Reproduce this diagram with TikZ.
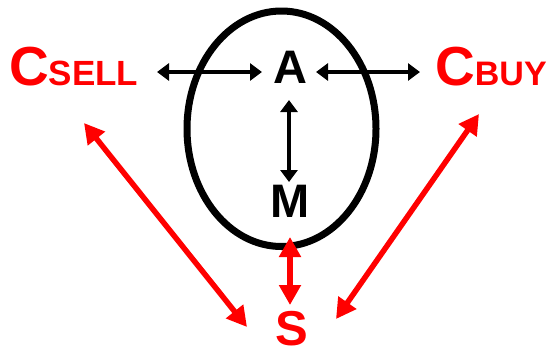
\documentclass[tikz,border=0pt]{standalone}
\usepackage{fontspec}
\setmainfont{Liberation Sans}
\usetikzlibrary{arrows.meta,shapes.geometric}
\definecolor{myred}{RGB}{255,0,0}
\tikzset{
  lbl/.style={inner sep=0pt, font=\bfseries},
  blk/.style={line width=4pt, {Triangle[length=12pt,width=17pt]}-{Triangle[length=12pt,width=17pt]}},
  redarr/.style={myred, line width=5.5pt, {Triangle[length=20pt,width=21pt]}-{Triangle[length=20pt,width=21pt]}},
}
\begin{document}
\begin{tikzpicture}[x=1pt,y=-1pt]
\useasboundingbox (0,0) rectangle (548,354);
% oval
\node[draw, ellipse, line width=7pt, minimum width=189pt, minimum height=235.5pt, inner sep=0pt, outer sep=0pt] (oval) at (281.5,128.75) {};
% labels
\node[lbl, anchor=base] (A) at (290,83) {\fontsize{47}{47}\selectfont A};
\node[lbl, anchor=base] (M) at (290,217) {\fontsize{47}{47}\selectfont M};
\node[lbl, anchor=base, text=myred] (S) at (292,345) {\fontsize{49}{49}\selectfont S};
\node[lbl, anchor=base west, text=myred] (Csell) at (9,85) {\fontsize{55}{55}\selectfont C\fontsize{35}{35}\selectfont SELL};
\node[lbl, anchor=base west, text=myred] (Cbuy) at (435,85) {\fontsize{55}{55}\selectfont C\fontsize{34}{34}\selectfont BUY};
% arrow endpoints
\coordinate (csellE) at (157,72);
\coordinate (aW) at (262,72);
\coordinate (aE) at (316,72);
\coordinate (cbuyW) at (420,72);
\coordinate (aS) at (289,100);
\coordinate (mN) at (289,182);
\coordinate (ovS) at (290,237);
\coordinate (sN) at (290,305);
\coordinate (csellS) at (84,123);
\coordinate (sW) at (247,327);
\coordinate (cbuyS) at (479,114);
\coordinate (sE) at (336,319);
% connectors
\draw[blk] (csellE) -- (aW);
\draw[blk] (aE) -- (cbuyW);
\draw[blk] (aS) -- (mN);
\draw[redarr] (ovS) -- (sN);
\draw[redarr] (csellS) -- (sW);
\draw[redarr] (cbuyS) -- (sE);
\end{tikzpicture}
\end{document}
